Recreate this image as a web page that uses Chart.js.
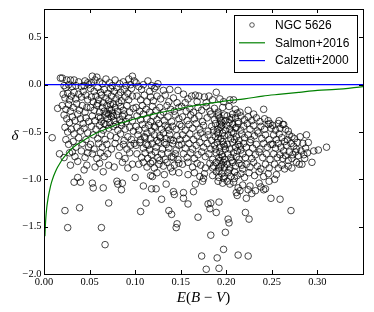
<!DOCTYPE html>
<html>
<head>
<meta charset="utf-8">
<script src="https://cdn.jsdelivr.net/npm/chart.js@4.4.1/dist/chart.umd.min.js"></script>
<style>
  html, body { margin: 0; padding: 0; background: #fff; }
  #wrap { width: 374px; height: 312px; }
</style>
</head>
<body>
<div id="wrap"><canvas id="chart" width="374" height="312"></canvas></div>
<script>
// axis ticks
const xTicks = [0.00, 0.05, 0.10, 0.15, 0.20, 0.25, 0.30];
const xTickLabels = ['0.00', '0.05', '0.10', '0.15', '0.20', '0.25', '0.30'];
const yTicks = [0.5, 0.0, -0.5, -1.0, -1.5, -2.0];
const yTickLabels = ['0.5', '0.0', '\u22120.5', '\u22121.0', '\u22121.5', '\u22122.0'];

// NGC 5626 regions, [E(B-V), delta], grouped by E(B-V) band
const band0 = [
  [0.009,-0.56],[0.015,-0.25],[0.017,-0.73],[0.022,-0.77],[0.023,-1.33],[0.026,-1.51],[0.033,-1.03],[0.040,-1.03],
  [0.039,-1.30],[0.037,-0.98],[0.037,-0.81],[0.029,-0.85],[0.031,-0.71],[0.044,-0.90],[0.047,-0.85],
  [0.018,0.07],[0.020,0.07],[0.025,0.05],[0.029,0.05],[0.033,0.05],[0.038,0.03],[0.045,0.04],[0.048,0.02],
  [0.022,-0.01],[0.024,-0.03],[0.027,0.00],[0.031,-0.02],[0.035,-0.01],[0.041,-0.02],[0.044,-0.01],[0.049,0.00],
  [0.021,-0.10],[0.023,-0.14],[0.026,-0.09],[0.028,-0.16],[0.030,-0.12],[0.033,-0.08],[0.035,-0.15],[0.038,-0.10],
  [0.041,-0.13],[0.043,-0.07],[0.046,-0.11],[0.048,-0.16],
  [0.020,-0.22],[0.024,-0.26],[0.027,-0.21],[0.029,-0.28],[0.032,-0.24],[0.036,-0.20],[0.039,-0.27],[0.042,-0.22],
  [0.045,-0.29],[0.047,-0.24],
  [0.022,-0.32],[0.025,-0.36],[0.028,-0.40],[0.031,-0.34],[0.034,-0.38],[0.037,-0.31],[0.040,-0.36],[0.043,-0.41],
  [0.046,-0.35],[0.049,-0.39],
  [0.023,-0.45],[0.026,-0.50],[0.030,-0.47],[0.033,-0.52],[0.036,-0.45],[0.040,-0.49],[0.044,-0.46],[0.048,-0.51],
  [0.024,-0.58],[0.027,-0.63],[0.032,-0.60],[0.035,-0.66],[0.038,-0.56],[0.042,-0.62],[0.046,-0.58],[0.049,-0.66],
  [0.028,-0.72],[0.034,-0.76],[0.041,-0.70],[0.045,-0.77],[0.048,-0.72]
];
const band1 = [
  [0.053,0.09],[0.058,0.08],[0.056,0.05],[0.068,0.06],[0.078,0.05],[0.093,0.06],[0.097,0.09],[0.099,0.04],
  [0.052,0.02],[0.061,0.03],[0.064,0.01],[0.072,0.02],[0.075,-0.01],[0.083,0.01],[0.087,0.03],[0.090,-0.01],[0.095,0.00],
  [0.051,-0.04],[0.055,-0.07],[0.059,-0.03],[0.062,-0.08],[0.066,-0.05],[0.070,-0.09],[0.073,-0.04],[0.077,-0.07],
  [0.080,-0.03],[0.084,-0.08],[0.088,-0.05],[0.092,-0.09],[0.096,-0.04],
  [0.052,-0.13],[0.054,-0.18],[0.057,-0.12],[0.060,-0.16],[0.063,-0.11],[0.065,-0.19],[0.068,-0.14],[0.071,-0.17],
  [0.074,-0.12],[0.076,-0.20],[0.079,-0.15],[0.082,-0.11],[0.085,-0.17],[0.089,-0.13],[0.093,-0.16],[0.097,-0.12],
  [0.051,-0.24],[0.055,-0.27],[0.058,-0.22],[0.061,-0.29],[0.064,-0.24],[0.066,-0.28],[0.069,-0.22],[0.072,-0.26],
  [0.075,-0.30],[0.078,-0.24],[0.081,-0.28],[0.084,-0.23],[0.087,-0.27],[0.091,-0.22],[0.094,-0.29],[0.098,-0.25],
  [0.053,-0.33],[0.056,-0.38],[0.060,-0.34],[0.063,-0.39],[0.067,-0.32],[0.070,-0.36],[0.072,-0.40],[0.074,-0.34],
  [0.077,-0.38],[0.080,-0.32],[0.083,-0.37],[0.086,-0.33],[0.090,-0.39],[0.093,-0.35],[0.097,-0.38],
  [0.052,-0.44],[0.057,-0.47],[0.061,-0.43],[0.065,-0.48],[0.068,-0.42],[0.071,-0.46],[0.076,-0.44],[0.081,-0.48],
  [0.085,-0.43],[0.089,-0.47],[0.094,-0.45],[0.098,-0.49],
  [0.054,-0.53],[0.059,-0.57],[0.063,-0.52],[0.067,-0.58],[0.073,-0.54],[0.079,-0.56],[0.084,-0.52],[0.088,-0.59],
  [0.092,-0.55],[0.096,-0.58],
  [0.051,-0.63],[0.055,-0.68],[0.060,-0.62],[0.064,-0.66],[0.069,-0.63],[0.074,-0.68],[0.078,-0.62],[0.083,-0.66],
  [0.087,-0.63],[0.091,-0.68],[0.095,-0.64],[0.099,-0.62],
  [0.053,-0.73],[0.058,-0.78],[0.062,-0.72],[0.066,-0.76],[0.070,-0.73],[0.082,-0.75],[0.089,-0.78],[0.094,-0.72],
  [0.056,-0.87],[0.061,-0.83],[0.065,-0.92],[0.071,-0.85],[0.077,-0.87],[0.086,-0.82],[0.092,-0.88],[0.097,-0.84],
  [0.053,-1.04],[0.054,-1.09],[0.065,-1.09],[0.063,-1.51],[0.067,-1.69],[0.071,-1.25],[0.080,-1.02],[0.081,-1.05],
  [0.086,-1.04],[0.085,-1.11],
  [0.059,-0.20],[0.062,-0.35],[0.066,-0.41],[0.069,-0.30],[0.073,-0.21],[0.076,-0.33],[0.079,-0.42],[0.082,-0.19],
  [0.085,-0.40],[0.088,-0.31],[0.071,-0.31],[0.074,-0.27]
];
const band2 = [
  [0.101,0.02],[0.104,-0.02],[0.109,0.00],[0.114,0.04],[0.118,-0.01],[0.121,-0.04],[0.123,-0.02],[0.125,0.01],
  [0.107,-0.05],[0.116,-0.07],[0.131,-0.06],[0.138,-0.05],[0.147,-0.06],
  [0.102,-0.12],[0.106,-0.16],[0.110,-0.11],[0.113,-0.18],[0.117,-0.13],[0.120,-0.17],[0.124,-0.12],[0.128,-0.15],
  [0.133,-0.11],[0.137,-0.18],[0.142,-0.14],[0.146,-0.19],
  [0.101,-0.24],[0.105,-0.28],[0.108,-0.22],[0.112,-0.26],[0.116,-0.29],[0.119,-0.23],[0.123,-0.27],[0.127,-0.24],
  [0.131,-0.29],[0.135,-0.22],[0.139,-0.26],[0.143,-0.28],[0.148,-0.24],
  [0.102,-0.33],[0.106,-0.37],[0.109,-0.31],[0.113,-0.36],[0.117,-0.39],[0.120,-0.33],[0.124,-0.37],[0.128,-0.32],
  [0.132,-0.38],[0.136,-0.34],[0.140,-0.39],[0.144,-0.32],[0.148,-0.36],
  [0.101,-0.44],[0.104,-0.48],[0.108,-0.42],[0.111,-0.46],[0.115,-0.43],[0.118,-0.49],[0.122,-0.45],[0.126,-0.41],
  [0.129,-0.47],[0.133,-0.43],[0.137,-0.48],[0.141,-0.44],[0.145,-0.47],[0.149,-0.42],
  [0.103,-0.53],[0.106,-0.58],[0.110,-0.55],[0.113,-0.51],[0.117,-0.57],[0.121,-0.53],[0.124,-0.59],[0.127,-0.54],
  [0.131,-0.51],[0.134,-0.57],[0.138,-0.53],[0.142,-0.59],[0.146,-0.54],[0.149,-0.58],
  [0.101,-0.64],[0.105,-0.61],[0.109,-0.67],[0.112,-0.63],[0.116,-0.69],[0.119,-0.62],[0.123,-0.66],[0.126,-0.61],
  [0.130,-0.68],[0.134,-0.63],[0.137,-0.67],[0.141,-0.62],[0.145,-0.69],[0.148,-0.64],
  [0.102,-0.73],[0.107,-0.77],[0.111,-0.72],[0.114,-0.78],[0.118,-0.74],[0.122,-0.71],[0.125,-0.77],[0.129,-0.73],
  [0.133,-0.79],[0.136,-0.72],[0.140,-0.76],[0.144,-0.73],[0.147,-0.79],
  [0.104,-0.84],[0.109,-0.82],[0.113,-0.87],[0.117,-0.83],[0.121,-0.88],[0.126,-0.84],[0.131,-0.86],[0.135,-0.82],
  [0.139,-0.88],[0.143,-0.85],[0.148,-0.83],
  [0.117,-0.96],[0.119,-0.97],[0.124,-0.93],[0.132,-0.95],[0.141,-0.92],
  [0.100,-0.98],[0.106,-1.34],[0.112,-1.25],[0.109,-1.07],[0.118,-1.10],[0.123,-1.10],[0.129,-1.21],[0.134,-1.05],
  [0.137,-1.33],[0.140,-1.37],[0.142,-1.13],[0.143,-1.16],[0.145,-1.51],[0.146,-1.47],[0.148,-0.93],
  [0.114,-0.64],[0.127,-0.80],[0.132,-0.61],[0.119,-0.81],[0.136,-0.45],[0.128,-0.56],[0.121,-0.44],[0.142,-0.77],
  [0.111,-0.56],[0.139,-0.58]
];
const band3 = [
  [0.153,-0.10],[0.158,-0.15],[0.162,-0.12],[0.166,-0.11],[0.170,-0.12],[0.176,-0.13],[0.181,-0.12],[0.185,-0.16],
  [0.189,-0.08],[0.193,-0.15],[0.197,-0.18],[0.155,-0.19],[0.168,-0.18],[0.178,-0.19],
  [0.151,-0.23],[0.156,-0.28],[0.160,-0.25],[0.164,-0.29],[0.169,-0.24],[0.173,-0.27],[0.178,-0.23],[0.182,-0.28],
  [0.187,-0.25],[0.191,-0.29],[0.196,-0.24],
  [0.152,-0.34],[0.157,-0.38],[0.161,-0.32],[0.165,-0.36],[0.170,-0.33],[0.174,-0.39],[0.179,-0.35],[0.183,-0.31],
  [0.187,-0.37],[0.191,-0.33],[0.194,-0.38],[0.198,-0.32],[0.193,-0.35],
  [0.151,-0.44],[0.155,-0.48],[0.159,-0.42],[0.163,-0.46],[0.167,-0.41],[0.171,-0.47],[0.175,-0.43],[0.180,-0.49],
  [0.184,-0.44],[0.188,-0.41],[0.191,-0.47],[0.195,-0.43],[0.199,-0.48],[0.193,-0.42],
  [0.152,-0.53],[0.156,-0.57],[0.160,-0.52],[0.164,-0.58],[0.168,-0.54],[0.172,-0.51],[0.176,-0.56],[0.180,-0.53],
  [0.184,-0.59],[0.188,-0.55],[0.191,-0.52],[0.194,-0.57],[0.198,-0.54],[0.196,-0.51],
  [0.151,-0.63],[0.155,-0.67],[0.159,-0.62],[0.163,-0.68],[0.167,-0.64],[0.171,-0.61],[0.175,-0.66],[0.179,-0.62],
  [0.183,-0.68],[0.187,-0.64],[0.190,-0.61],[0.193,-0.66],[0.197,-0.63],[0.199,-0.68],
  [0.153,-0.73],[0.157,-0.77],[0.161,-0.72],[0.165,-0.78],[0.169,-0.74],[0.173,-0.71],[0.177,-0.76],[0.181,-0.73],
  [0.185,-0.79],[0.189,-0.72],[0.192,-0.77],[0.195,-0.74],[0.198,-0.79],
  [0.152,-0.84],[0.158,-0.82],[0.163,-0.87],[0.168,-0.83],[0.172,-0.85],[0.177,-0.88],[0.182,-0.83],[0.186,-0.86],
  [0.189,-0.82],[0.192,-0.88],[0.195,-0.84],[0.198,-0.87],
  [0.158,-0.95],[0.165,-0.93],[0.171,-0.97],[0.176,-0.94],[0.185,-0.96],[0.189,-0.92],[0.192,-0.98],[0.195,-0.94],
  [0.198,-0.97],[0.191,-1.02],[0.196,-1.04],
  [0.153,-1.14],[0.153,-1.20],[0.158,-1.26],[0.164,-1.13],[0.169,-1.40],[0.173,-1.81],[0.178,-1.95],[0.180,-1.26],
  [0.182,-1.31],[0.183,-1.25],[0.189,-1.35],[0.183,-1.59],[0.190,-1.83],[0.192,-1.94],[0.192,-1.24],[0.197,-1.74],
  [0.199,-1.56],[0.174,-1.02],[0.166,-1.05],[0.175,-0.99],
  [0.191,-0.31],[0.194,-0.45],[0.196,-0.60],[0.193,-0.71],[0.197,-0.82],[0.192,-0.91],[0.195,-0.40],[0.198,-0.65],
  [0.190,-0.50],[0.194,-0.86],[0.199,-0.38],[0.196,-0.76],[0.191,-0.57],[0.197,-0.99],[0.193,-0.80],[0.186,-0.48],
  [0.188,-0.68],[0.185,-0.88]
];
const band4 = [
  [0.204,-0.16],[0.208,-0.16],[0.210,-0.26],[0.224,-0.27],[0.241,-0.26],[0.203,-0.23],[0.215,-0.29],[0.230,-0.31],
  [0.201,-0.33],[0.204,-0.37],[0.207,-0.31],[0.210,-0.35],[0.213,-0.39],[0.216,-0.33],[0.220,-0.37],[0.224,-0.34],
  [0.228,-0.38],[0.233,-0.35],[0.237,-0.39],[0.242,-0.36],[0.246,-0.38],
  [0.201,-0.43],[0.204,-0.47],[0.207,-0.42],[0.210,-0.46],[0.213,-0.41],[0.216,-0.48],[0.219,-0.44],[0.223,-0.41],
  [0.226,-0.47],[0.230,-0.43],[0.234,-0.49],[0.238,-0.44],[0.242,-0.47],[0.246,-0.42],[0.249,-0.46],
  [0.202,-0.53],[0.205,-0.57],[0.208,-0.51],[0.211,-0.55],[0.214,-0.59],[0.217,-0.52],[0.220,-0.56],[0.224,-0.53],
  [0.227,-0.58],[0.231,-0.54],[0.235,-0.51],[0.239,-0.57],[0.243,-0.53],[0.247,-0.58],
  [0.201,-0.63],[0.204,-0.68],[0.207,-0.61],[0.210,-0.66],[0.213,-0.63],[0.216,-0.69],[0.219,-0.62],[0.222,-0.66],
  [0.226,-0.61],[0.229,-0.67],[0.233,-0.63],[0.237,-0.68],[0.241,-0.62],[0.245,-0.66],[0.249,-0.63],
  [0.202,-0.73],[0.205,-0.77],[0.208,-0.72],[0.211,-0.76],[0.214,-0.79],[0.218,-0.73],[0.221,-0.77],[0.225,-0.72],
  [0.228,-0.78],[0.232,-0.74],[0.236,-0.71],[0.240,-0.77],[0.244,-0.73],[0.248,-0.79],
  [0.201,-0.84],[0.204,-0.88],[0.207,-0.82],[0.210,-0.86],[0.214,-0.83],[0.218,-0.89],[0.222,-0.84],[0.226,-0.87],
  [0.230,-0.82],[0.234,-0.86],[0.238,-0.89],[0.243,-0.84],[0.247,-0.88],
  [0.202,-0.93],[0.205,-0.97],[0.209,-0.92],[0.212,-0.96],[0.216,-0.94],[0.220,-0.98],[0.225,-0.93],[0.231,-0.96],
  [0.236,-0.92],[0.241,-0.97],[0.246,-0.94],
  [0.201,-1.02],[0.204,-1.05],[0.208,-1.03],[0.211,-1.14],[0.213,-1.09],[0.212,-1.17],[0.215,-1.12],[0.218,-1.06],
  [0.224,-1.11],[0.226,-1.07],[0.228,-1.15],[0.232,-1.12],[0.236,-1.04],[0.241,-1.11],[0.243,-1.10],[0.238,-1.08],
  [0.222,-1.20],[0.247,-1.02],
  [0.202,-1.42],[0.203,-1.46],[0.213,-1.80],[0.221,-1.35],[0.224,-1.81],[0.225,-1.42],[0.249,-1.20],
  [0.203,-0.40],[0.206,-0.50],[0.209,-0.58],[0.212,-0.70],[0.206,-0.80],[0.203,-0.90],[0.211,-0.45],[0.215,-0.65],
  [0.217,-0.85],[0.209,-0.99],[0.206,-0.35],[0.212,-0.30]
];
const band5 = [
  [0.251,-0.43],[0.254,-0.48],[0.257,-0.41],[0.259,-0.46],[0.262,-0.42],[0.265,-0.47],[0.263,-0.42],[0.268,-0.49],
  [0.269,-0.53],[0.272,-0.55],[0.275,-0.57],[0.278,-0.61],[0.248,-0.41],[0.258,-0.38],
  [0.252,-0.53],[0.255,-0.58],[0.258,-0.52],[0.261,-0.56],[0.264,-0.60],[0.267,-0.58],[0.271,-0.62],[0.274,-0.65],
  [0.277,-0.68],
  [0.251,-0.63],[0.254,-0.67],[0.257,-0.62],[0.260,-0.66],[0.263,-0.70],[0.266,-0.64],[0.269,-0.71],[0.273,-0.74],
  [0.276,-0.71],[0.279,-0.75],
  [0.252,-0.73],[0.256,-0.77],[0.259,-0.74],[0.262,-0.78],[0.265,-0.75],[0.268,-0.80],[0.272,-0.78],[0.277,-0.82],
  [0.280,-0.84],[0.283,-0.84],
  [0.253,-0.84],[0.257,-0.88],[0.261,-0.85],[0.264,-0.89],[0.268,-0.86],[0.272,-0.88],
  [0.255,-0.95],[0.259,-1.21],[0.271,-1.33],[0.253,-1.00],
  [0.288,-0.53],[0.290,-0.61],[0.287,-0.67],[0.296,-0.70],[0.294,-0.82],[0.285,-0.74],[0.282,-0.70],[0.281,-0.55],
  [0.284,-0.62],[0.289,-0.72],[0.286,-0.78]
];
const band6 = [
  [0.301,-0.69],[0.310,-0.66]
];

// Salmon+2016 relation
const salmonX = [0.001, 0.0015, 0.002, 0.003, 0.004, 0.005, 0.0065, 0.008, 0.010, 0.0125, 0.015, 0.0175, 0.020,
  0.025, 0.030, 0.035, 0.040, 0.050, 0.060, 0.070, 0.080, 0.090, 0.100, 0.120, 0.140, 0.160, 0.180, 0.200,
  0.220, 0.240, 0.260, 0.280, 0.300, 0.320, 0.350];
const salmonY = [-1.60, -1.49, -1.41, -1.30, -1.23, -1.17, -1.10, -1.04, -0.98, -0.92, -0.87, -0.83, -0.79,
  -0.73, -0.68, -0.64, -0.61, -0.55, -0.50, -0.46, -0.42, -0.39, -0.36, -0.31, -0.27, -0.23, -0.20, -0.17,
  -0.15, -0.12, -0.10, -0.08, -0.06, -0.05, -0.02];

// Calzetti+2000 (delta = 0)
const calzettiX = [0.0, 0.35];
const calzettiY = [0.0, 0.0];

const ngcPoints = [].concat(band0, band1, band2, band3, band4, band5, band6).map(p => ({x: p[0], y: p[1]}));

// frame, inward ticks, axis titles and legend box, matplotlib style
const mplFrame = {
  id: 'mplFrame',
  afterDatasetsDraw(chart) {
    const {ctx, chartArea: a, scales} = chart;
    ctx.save();
    ctx.strokeStyle = '#000';
    ctx.lineWidth = 1;
    ctx.beginPath();
    for (const v of xTicks) {
      const px = Math.round(scales.x.getPixelForValue(v)) + 0.5;
      ctx.moveTo(px, a.bottom); ctx.lineTo(px, a.bottom - 4);
      ctx.moveTo(px, a.top); ctx.lineTo(px, a.top + 4);
    }
    for (const v of yTicks) {
      const py = Math.round(scales.y.getPixelForValue(v)) + 0.5;
      ctx.moveTo(a.left, py); ctx.lineTo(a.left + 4, py);
      ctx.moveTo(a.right, py); ctx.lineTo(a.right - 4, py);
    }
    ctx.stroke();
    ctx.strokeRect(Math.round(a.left) + 0.5, Math.round(a.top) + 0.5,
      Math.round(a.right - a.left), Math.round(a.bottom - a.top));
    ctx.restore();
  },
  afterDraw(chart) {
    const {ctx, chartArea: a} = chart;
    ctx.save();
    ctx.fillStyle = '#000';

    // x title: E(B - V), math italics for the letters
    const parts = [['E', 'italic'], ['(', 'normal'], ['B', 'italic'], [' \u2212 ', 'normal'], ['V', 'italic'], [')', 'normal']];
    let total = 0;
    for (const p of parts) {
      ctx.font = p[1] + ' 15px "Liberation Serif"';
      total += ctx.measureText(p[0]).width;
    }
    let tx = (a.left + a.right) / 2 - total / 2;
    ctx.textBaseline = 'middle';
    ctx.textAlign = 'left';
    for (const p of parts) {
      ctx.font = p[1] + ' 15px "Liberation Serif"';
      ctx.fillText(p[0], tx, 298.5);
      tx += ctx.measureText(p[0]).width;
    }

    // y title
    ctx.font = 'italic 15px "Liberation Serif"';
    ctx.textAlign = 'center';
    ctx.fillText('\u03b4', 15, 136);

    // legend
    const bx = 234.5, by = 15.5, bw = 123, bh = 57;
    ctx.fillStyle = '#fff';
    ctx.fillRect(bx, by, bw, bh);
    ctx.strokeStyle = '#000';
    ctx.lineWidth = 1;
    ctx.strokeRect(bx, by, bw, bh);
    ctx.font = '12px "Liberation Sans"';
    ctx.textAlign = 'left';
    ctx.textBaseline = 'middle';
    chart.data.datasets.forEach((ds, i) => {
      const ry = 25 + i * 17.8;
      if (ds.type === 'line') {
        ctx.strokeStyle = ds.borderColor;
        ctx.lineWidth = ds.borderWidth;
        ctx.beginPath();
        ctx.moveTo(239, ry); ctx.lineTo(265, ry);
        ctx.stroke();
      } else {
        ctx.strokeStyle = ds.borderColor;
        ctx.lineWidth = 0.8;
        ctx.beginPath();
        ctx.arc(252, ry, 2.3, 0, Math.PI * 2);
        ctx.stroke();
      }
      ctx.fillStyle = '#000';
      ctx.fillText(ds.label, 275, ry + 0.5);
    });
    ctx.restore();
  }
};

const ctx = document.getElementById('chart').getContext('2d');
new Chart(ctx, {
  type: 'scatter',
  data: {
    datasets: [
      {
        label: 'NGC 5626',
        data: ngcPoints,
        pointStyle: 'circle',
        pointRadius: 3.3,
        pointBorderWidth: 0.9,
        borderColor: 'rgba(0,0,0,0.8)',
        backgroundColor: 'rgba(0,0,0,0)',
        order: 2
      },
      {
        type: 'line',
        label: 'Salmon+2016',
        data: salmonX.map((x, i) => ({x, y: salmonY[i]})),
        borderColor: '#008000',
        borderWidth: 1.2,
        pointRadius: 0,
        fill: false,
        cubicInterpolationMode: 'monotone',
        order: 1
      },
      {
        type: 'line',
        label: 'Calzetti+2000',
        data: calzettiX.map((x, i) => ({x, y: calzettiY[i]})),
        borderColor: '#0000ff',
        borderWidth: 1.2,
        pointRadius: 0,
        fill: false,
        order: 0
      }
    ]
  },
  options: {
    responsive: false,
    animation: false,
    devicePixelRatio: 1,
    layout: { padding: { left: 0, right: 11, top: 9, bottom: 0 } },
    plugins: { legend: { display: false }, tooltip: { enabled: false } },
    scales: {
      x: {
        type: 'linear', min: 0, max: 0.35,
        afterBuildTicks: s => { s.ticks = xTicks.map(v => ({value: v})); },
        afterFit: s => { s.height = 38; },
        grid: { display: false, drawTicks: false },
        border: { display: false },
        ticks: {
          autoSkip: false, maxRotation: 0, padding: 2, color: '#000',
          font: { family: 'Liberation Serif', size: 10.5 },
          callback: (v, i) => xTickLabels[i]
        }
      },
      y: {
        type: 'linear', min: -2.0, max: 0.8,
        afterBuildTicks: s => { s.ticks = yTicks.map(v => ({value: v})); },
        afterFit: s => { s.width = 44; },
        grid: { display: false, drawTicks: false },
        border: { display: false },
        ticks: {
          autoSkip: false, padding: 2.5, color: '#000',
          font: { family: 'Liberation Serif', size: 10.5 },
          callback: (v, i) => yTickLabels[i]
        }
      }
    }
  },
  plugins: [mplFrame]
});
</script>
</body>
</html>
